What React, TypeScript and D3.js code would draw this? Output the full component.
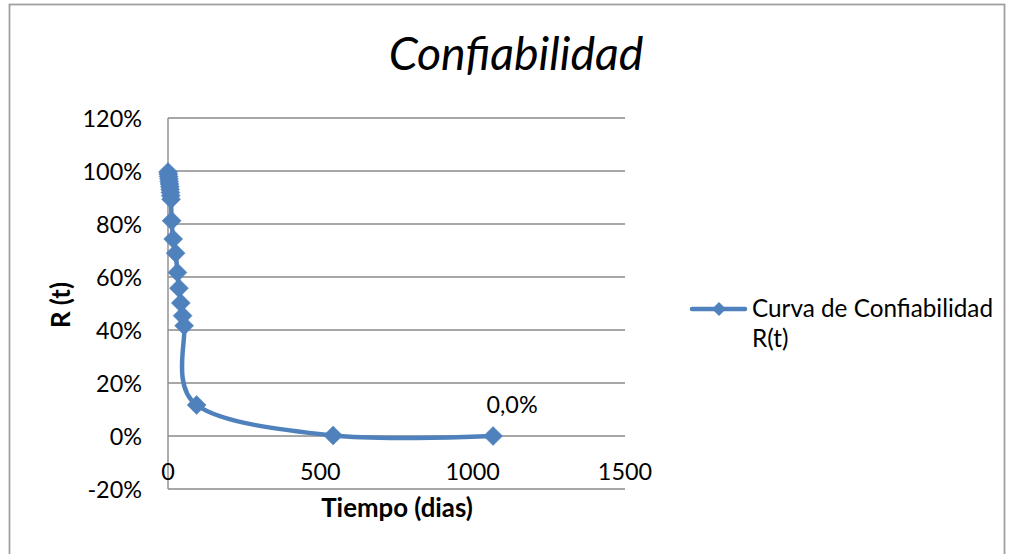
import React from "react";
import * as d3 from "d3";

const tiempo = [0, 1, 2, 3, 4, 5, 6, 7, 8, 9, 10, 12, 17, 25, 31, 36, 42, 48, 53, 94, 542, 1067];
const confiabilidad = [0.996, 0.988, 0.979, 0.97, 0.96, 0.951, 0.941, 0.93, 0.919, 0.907, 0.893, 0.812, 0.743, 0.69, 0.617, 0.558, 0.502, 0.454, 0.416, 0.117, 0.002, 0.0];
const xTicks = [0, 500, 1000, 1500];
const yTicks = [-0.2, 0, 0.2, 0.4, 0.6, 0.8, 1.0, 1.2];
const title = "Confiabilidad";
const xTitle = "Tiempo (dias)";
const yTitle = "R (t)";
const legendLines = ["Curva de Confiabilidad", "R(t)"];
const dataLabel = "0,0%";

const BLUE = "#4F81BD";
const GRID = "#8a8a8a";
const FONT = "Lato, 'Open Sans', sans-serif";

export default function App() {
  const x = d3.scaleLinear().domain([0, 1500]).range([168, 625]);
  const y = d3.scaleLinear().domain([-0.2, 1.2]).range([489, 118]);
  const pts: [number, number][] = tiempo.map((t, i) => [x(t), y(confiabilidad[i])]);
  const line = d3.line().curve(d3.curveCardinal.tension(0));
  const path = line(pts) || "";
  const diamond = (cx: number, cy: number, r: number) =>
    `M${cx},${cy - r}L${cx + r},${cy}L${cx},${cy + r}L${cx - r},${cy}Z`;
  const fmtPct = (v: number) => d3.format(".0%")(v).replace("\u2212", "-");
  const last = pts[pts.length - 1];

  return (
    <svg
      width={1014}
      height={554}
      style={{ position: "absolute", left: 0, top: 0, background: "#fff" }}
      fontFamily={FONT}
    >
      <rect x={0} y={0} width={1014} height={554} fill="#fff" />
      <rect x={9.5} y={4.5} width={995} height={560} fill="none" stroke="#a0a0a0" strokeWidth={1.8} />
      {/* gridlines */}
      {yTicks.map((v) => (
        <line key={v} x1={x(0)} x2={x(1500)} y1={y(v)} y2={y(v)} stroke={GRID} strokeWidth={1.4} />
      ))}
      <line x1={x(0)} x2={x(0)} y1={y(1.2)} y2={y(-0.2)} stroke={GRID} strokeWidth={1.4} />
      {/* y tick labels */}
      {yTicks.map((v) => (
        <text key={v} x={142} y={y(v) + 8.5} textAnchor="end" fontSize={23.4} fill="#000">
          {fmtPct(v)}
        </text>
      ))}
      {/* x tick labels */}
      {xTicks.map((v) => (
        <text key={v} x={x(v)} y={479.5} textAnchor="middle" fontSize={23.4} fill="#000">
          {v}
        </text>
      ))}
      {/* series */}
      <path d={path} fill="none" stroke={BLUE} strokeWidth={4.5} strokeLinejoin="round" strokeLinecap="round" />
      {pts.map((p, i) => (
        <path key={i} d={diamond(p[0], p[1], 9.5)} fill={BLUE} stroke={BLUE} strokeWidth={0.5} />
      ))}
      {/* data label */}
      <text x={last[0] + 19} y={412.5} textAnchor="middle" fontSize={23.4} fill="#000">
        {dataLabel}
      </text>
      {/* title */}
      <text x={516} y={70} textAnchor="middle" fontSize={46.5} fontStyle="italic" fill="#000">
        {title}
      </text>
      {/* axis titles */}
      <text x={397} y={517} textAnchor="middle" fontSize={25.8} fontWeight="bold" fill="#000">
        {xTitle}
      </text>
      <text
        transform={`translate(70,305) rotate(-90)`}
        textAnchor="middle"
        fontSize={25.8}
        fontWeight="bold"
        fill="#000"
      >
        {yTitle}
      </text>
      {/* legend */}
      <line x1={692} x2={745} y1={309} y2={309} stroke={BLUE} strokeWidth={4.5} strokeLinecap="round" />
      <path d={diamond(719, 309, 7)} fill={BLUE} />
      <text x={752} y={317} fontSize={24.3} fill="#000">
        {legendLines[0]}
      </text>
      <text x={752} y={347} fontSize={24.3} fill="#000">
        {legendLines[1]}
      </text>
    </svg>
  );
}
